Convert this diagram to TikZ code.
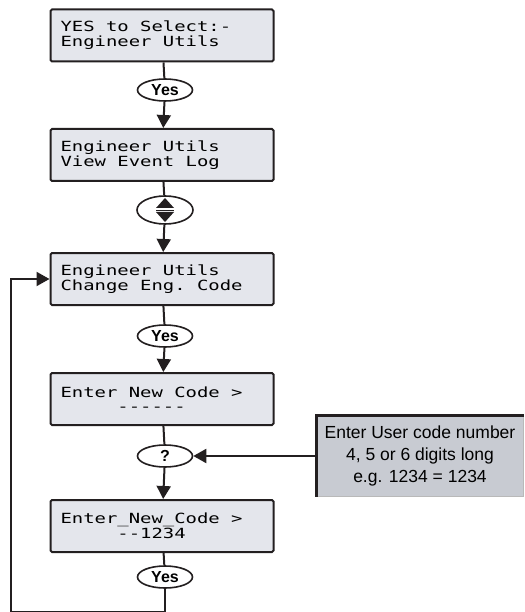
\documentclass[tikz,border=0pt]{standalone}
\usepackage{fontspec}
\usetikzlibrary{arrows.meta,shapes.geometric}
\newfontfamily\lcdfont[FakeStretch=1.35,Ligatures=TeXOff]{DejaVu Sans Mono}
\newfontfamily\labelfont{Liberation Sans}
\newcommand\lsp{\phantom{x}}
\definecolor{lcdgray}{RGB}{228,230,236}
\definecolor{notegray}{RGB}{200,203,210}
\definecolor{lineblack}{RGB}{35,31,32}

\begin{document}
\begin{tikzpicture}[x=1pt,y=-1pt,line join=miter,
  lcd/.style={draw=lineblack,line width=2pt,fill=lcdgray,rounded corners=1.5pt,
    minimum width=223pt,minimum height=52pt,text width=203pt,align=left,inner sep=0pt,
    font=\lcdfont\fontsize{14}{15}\selectfont},
  key/.style={ellipse,draw=lineblack,line width=1.6pt,fill=white,inner sep=0pt,
    minimum width=55pt,minimum height=22pt,font=\labelfont\bfseries\fontsize{16}{16}\selectfont},
  flow/.style={draw=lineblack,line width=2pt},
  tip/.style={-{Triangle[length=13pt,width=14pt]}}]
  \useasboundingbox (0,0) rectangle (524,612);
  % 显示框
  \foreach \nm/\y/\txt in {%
    lcdA/35.5/{YES\lsp to\lsp Select:-\\Engineer\lsp Utils},%
    lcdB/155/{Engineer\lsp Utils\\View\lsp Event\lsp Log},%
    lcdC/279/{Engineer\lsp Utils\\Change\lsp Eng.\lsp Code},%
    lcdD/399/{Enter\lsp New\lsp Code\lsp >\\[-1pt]\phantom{Enter}------\\[6pt]},%
    lcdE/526/{Enter\_New\_Code\lsp >\\\phantom{Enter}--1234}%
  } {
    \node[lcd] (\nm) at (162,\y) {\txt};
  }
  % 按键
  \foreach \nm/\y/\txt in {yesA/90/Yes,yesB/336/Yes,yesC/577/Yes,keyQ/456/?} {
    \node[key] (\nm) at (165,\y) {\txt};
  }
  \node[key,minimum width=56pt,minimum height=28pt] (keyUD) at (165,210) {};
  \begin{scope}[shift={(keyUD.center)}]
    \fill[lineblack] (-9,-2) -- (9,-2) -- (0,-12) -- cycle;
    \fill[lineblack] (-9,2) -- (9,2) -- (0,12) -- cycle;
    \draw[lineblack,line width=0.8pt] (-9,0) -- (9,0);
  \end{scope}
  % 说明框
  \node[draw=gray!55,line width=1pt,fill=notegray,minimum width=206pt,minimum height=80pt,
    align=center,inner sep=0pt,font=\labelfont\fontsize{17.5}{22}\selectfont]
    (note) at (420,456) {Enter User code number\\4, 5 or 6 digits long\\e.g. 1234 = 1234};
  \draw[lineblack,line width=2.5pt] (note.south west) -- (note.north west) -- (note.north east);
  % 连线
  \foreach \a/\b in {lcdA/yesA,lcdB/keyUD,lcdC/yesB,lcdD/keyQ,lcdE/yesC} {
    \draw[flow] (\a) -- (\b);
  }
  \foreach \a/\b in {yesA/lcdB,keyUD/lcdC,yesB/lcdD,keyQ/lcdE} {
    \draw[flow,tip] (\a) -- (\b);
  }
  \draw[flow,tip] (note) -- (keyQ);
  % 回路
  \coordinate (loopB) at (165,611.5);
  \coordinate (loopL) at (11,611.5);
  \draw[flow,tip] (yesC) -- (loopB) -- (loopL) |- (lcdC);
\end{tikzpicture}
\end{document}
